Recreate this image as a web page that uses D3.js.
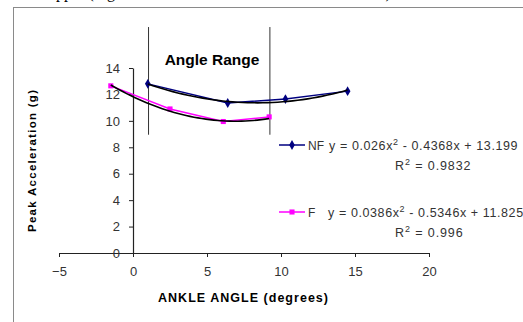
<!DOCTYPE html>
<html>
<head>
<meta charset="utf-8">
<script src="https://cdn.jsdelivr.net/npm/d3@7"></script>
<style>
  body { margin: 0; background: #fff; }
  svg { display: block; font-family: "Liberation Sans", Arial, sans-serif; }
</style>
</head>
<body>
<div id="chart"></div>
<script>
// Data
const nfAngle = [1.0, 6.4, 10.3, 14.5];
const nfAccel = [12.8, 11.35, 11.65, 12.25];
const fAngle = [-1.5, 2.5, 6.1, 9.2];
const fAccel = [12.65, 10.9, 9.95, 10.3];

// Trendline coefficients (a, b, c) as printed on the chart
const nfCoef = [0.026, -0.4368, 13.199];
const fCoef = [0.0386, -0.5346, 11.825];
const nfR2 = "0.9832";
const fR2 = "0.996";

const xTicks = [-5, 0, 5, 10, 15, 20];
const yTicks = [0, 2, 4, 6, 8, 10, 12, 14];
const rangeAngles = [1.05, 9.25];

const width = 523;
const height = 322;

const svg = d3.select("#chart")
  .append("svg")
    .attr("width", width)
    .attr("height", height);

// cut-off line of the surrounding document
svg.append("text")
    .attr("x", 48)
    .attr("y", -2.5)
    .attr("font-family", "Liberation Serif, serif")
    .attr("font-size", 16)
    .text("upper (Figure 4.5 and Table 4.2 on the left of the test)");

// chart frame
svg.append("rect")
    .attr("x", 13.5)
    .attr("y", 7.5)
    .attr("width", 600)
    .attr("height", 400)
    .attr("fill", "none")
    .attr("stroke", "#8a8a8a");

const x = d3.scaleLinear().domain([-5, 20]).range([59, 429]);
const y = d3.scaleLinear().domain([0, 14]).range([253, 68]);

// x axis
const xAxis = svg.append("g")
    .attr("transform", `translate(0, ${y(0)})`)
    .call(d3.axisBottom(x).tickValues(xTicks).tickSize(4).tickSizeOuter(0).tickPadding(10));

// y axis sits at x = 0
const yAxis = svg.append("g")
    .attr("transform", `translate(${x(0)}, 0)`)
    .call(d3.axisLeft(y).tickValues(yTicks).tickSize(4).tickSizeOuter(0).tickPadding(9));

[xAxis, yAxis].forEach(ax => {
  ax.select(".domain").attr("stroke", "#222").attr("stroke-width", 1.2);
  ax.selectAll(".tick line").attr("stroke", "#222");
  ax.selectAll(".tick text")
    .attr("font-family", "Liberation Sans, Arial, sans-serif")
    .attr("font-size", 13)
    .attr("fill", "#333");
});

// axis titles
svg.append("text")
    .attr("x", 243)
    .attr("y", 302)
    .attr("text-anchor", "middle")
    .attr("font-weight", "bold")
    .attr("font-size", 12.5)
    .attr("textLength", 170)
    .attr("lengthAdjust", "spacing")
    .text("ANKLE ANGLE (degrees)");

svg.append("text")
    .attr("transform", "translate(36, 161) rotate(-90)")
    .attr("text-anchor", "middle")
    .attr("font-weight", "bold")
    .attr("font-size", 11.5)
    .attr("textLength", 142)
    .attr("lengthAdjust", "spacing")
    .text("Peak Acceleration (g)");

// angle range markers
svg.append("g")
    .attr("stroke", "#333")
    .attr("stroke-width", 1)
  .selectAll("line")
  .data(rangeAngles)
  .join("line")
    .attr("x1", d => x(d))
    .attr("x2", d => x(d))
    .attr("y1", y(17.1))
    .attr("y2", y(8.95));

svg.append("text")
    .attr("x", 212)
    .attr("y", 65)
    .attr("text-anchor", "middle")
    .attr("font-weight", "bold")
    .attr("font-size", 15.5)
    .text("Angle Range");

// series
const series = [
  { name: "NF", xs: nfAngle, ys: nfAccel, coef: nfCoef, r2: nfR2, color: "#000080", symbol: d3.symbolDiamond, size: 28, ly: 145, eqX: 329 },
  { name: "F", xs: fAngle, ys: fAccel, coef: fCoef, r2: fR2, color: "#ff00ff", symbol: d3.symbolSquare, size: 26, ly: 212, eqX: 328 }
];

const line = d3.line().x(d => x(d[0])).y(d => y(d[1]));

series.forEach(s => {
  const pts = s.xs.map((v, i) => [v, s.ys[i]]);
  svg.append("path")
      .attr("d", line(pts))
      .attr("fill", "none")
      .attr("stroke", s.color)
      .attr("stroke-width", 1.5);
  svg.append("g")
    .selectAll("path")
    .data(pts)
    .join("path")
      .attr("transform", d => `translate(${x(d[0])}, ${y(d[1])})`)
      .attr("d", d3.symbol().type(s.symbol).size(s.size))
      .attr("fill", s.color);
});

// polynomial trendlines
series.forEach(s => {
  const [a, b, c] = s.coef;
  const x0 = d3.min(s.xs), x1 = d3.max(s.xs);
  const trend = d3.range(0, 41).map(i => {
    const v = x0 + (x1 - x0) * i / 40;
    return [v, a * v * v + b * v + c];
  });
  svg.append("path")
      .attr("d", line(trend))
      .attr("fill", "none")
      .attr("stroke", "#000")
      .attr("stroke-width", 1.6);
});

// legend with equations
const fmt = v => Math.abs(v).toString();
series.forEach(s => {
  const g = svg.append("g");
  g.append("line")
      .attr("x1", 279).attr("x2", 305)
      .attr("y1", s.ly).attr("y2", s.ly)
      .attr("stroke", s.color)
      .attr("stroke-width", 1.5);
  g.append("path")
      .attr("transform", `translate(292, ${s.ly})`)
      .attr("d", d3.symbol().type(s.symbol).size(s.size))
      .attr("fill", s.color);

  const txt = g.append("g")
      .attr("font-size", 12.5)
      .attr("fill", "#333");
  txt.append("text")
      .attr("x", 308)
      .attr("y", s.ly + 5)
      .attr("font-size", 12)
      .text(s.name);

  const [a, b, c] = s.coef;
  const eq = txt.append("text")
      .attr("x", s.eqX)
      .attr("y", s.ly + 5)
      .attr("letter-spacing", 0.6);
  eq.append("tspan").text(`y = ${a}x`);
  eq.append("tspan").attr("dy", -5).attr("font-size", 9).text("2");
  eq.append("tspan").attr("dy", 5).text(` ${b < 0 ? "-" : "+"} ${fmt(b)}x ${c < 0 ? "-" : "+"} ${fmt(c)}`);

  const r = txt.append("text")
      .attr("x", 395)
      .attr("y", s.ly + 25)
      .attr("letter-spacing", 0.9);
  r.append("tspan").text("R");
  r.append("tspan").attr("dy", -5).attr("font-size", 9).text("2");
  r.append("tspan").attr("dy", 5).text(` = ${s.r2}`);
});
</script>
</body>
</html>
